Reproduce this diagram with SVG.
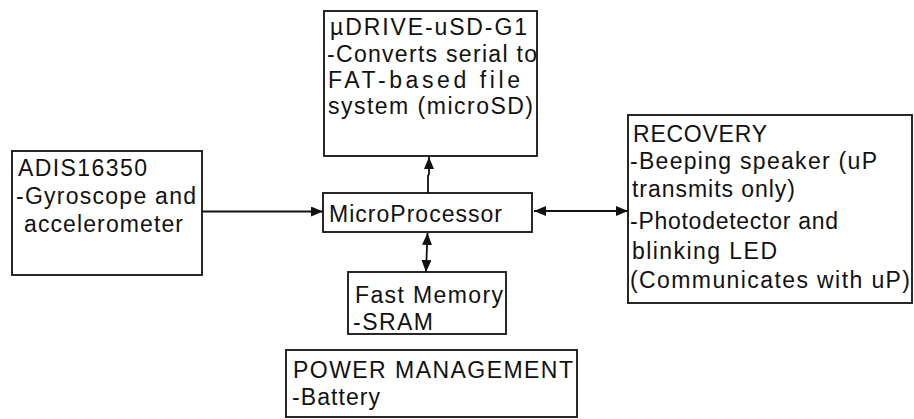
<svg xmlns="http://www.w3.org/2000/svg" width="914" height="419" viewBox="0 0 914 419">
<defs>
<style>
.box{fill:#fff;stroke:#111;stroke-width:1.8}
.t{font-family:"Liberation Sans",Arial,sans-serif;font-size:23px;fill:#111}
.c{stroke:#111;stroke-width:1.8;fill:none}
</style>
<marker id="ah" viewBox="0 0 12 10" refX="12" refY="5" markerWidth="12" markerHeight="10" markerUnits="userSpaceOnUse" orient="auto-start-reverse">
<path d="M0,0 L12,5 L0,10 z" fill="#111"/>
</marker>
</defs>
<rect width="914" height="419" fill="#fff"/>
<g id="connectors">
<line class="c" x1="202" y1="211.5" x2="323" y2="211.5" marker-end="url(#ah)"/>
<line class="c" x1="534" y1="211" x2="628" y2="211" marker-start="url(#ah)" marker-end="url(#ah)"/>
<polyline class="c" points="428,193 428,176 429,174 429,157" marker-end="url(#ah)"/>
<line class="c" x1="427.5" y1="233" x2="426" y2="272" marker-start="url(#ah)" marker-end="url(#ah)"/>
</g>
<g id="adis">
<rect class="box" x="12" y="151" width="190" height="124"/>
<text class="t" x="18" y="176" textLength="129" lengthAdjust="spacing">ADIS16350</text>
<text class="t" x="16" y="204" textLength="180" lengthAdjust="spacing">-Gyroscope and</text>
<text class="t" x="24" y="232" textLength="159" lengthAdjust="spacing">accelerometer</text>
</g>
<g id="udrive">
<rect class="box" x="324" y="11" width="213" height="145"/>
<text class="t" x="330" y="35" textLength="197" lengthAdjust="spacing">µDRIVE-uSD-G1</text>
<text class="t" x="327" y="62" textLength="210" lengthAdjust="spacing">-Converts serial to</text>
<text class="t" x="328" y="88" textLength="192" lengthAdjust="spacing">FAT-based file</text>
<text class="t" x="328" y="114" textLength="205" lengthAdjust="spacing">system (microSD)</text>
</g>
<g id="micro">
<rect class="box" x="323" y="193" width="209" height="39"/>
<text class="t" x="329" y="222" textLength="173" lengthAdjust="spacing">MicroProcessor</text>
</g>
<g id="recovery">
<rect class="box" x="628" y="115" width="284" height="188"/>
<text class="t" x="633" y="142" textLength="134" lengthAdjust="spacing">RECOVERY</text>
<text class="t" x="630" y="169" textLength="247" lengthAdjust="spacing">-Beeping speaker (uP</text>
<text class="t" x="632" y="197" textLength="163" lengthAdjust="spacing">transmits only)</text>
<text class="t" x="630" y="229" textLength="208" lengthAdjust="spacing">-Photodetector and</text>
<text class="t" x="632" y="259" textLength="145" lengthAdjust="spacing">blinking LED</text>
<text class="t" x="630" y="288" textLength="280" lengthAdjust="spacing">(Communicates with uP)</text>
</g>
<g id="memory">
<rect class="box" x="348" y="272" width="158" height="62"/>
<text class="t" x="355" y="303" textLength="148" lengthAdjust="spacing">Fast Memory</text>
<text class="t" x="353" y="330" textLength="80" lengthAdjust="spacing">-SRAM</text>
</g>
<g id="power">
<rect class="box" x="286" y="350" width="291" height="67"/>
<text class="t" x="293" y="378" textLength="280" lengthAdjust="spacing">POWER MANAGEMENT</text>
<text class="t" x="292" y="405" textLength="88" lengthAdjust="spacing">-Battery</text>
</g>
</svg>
